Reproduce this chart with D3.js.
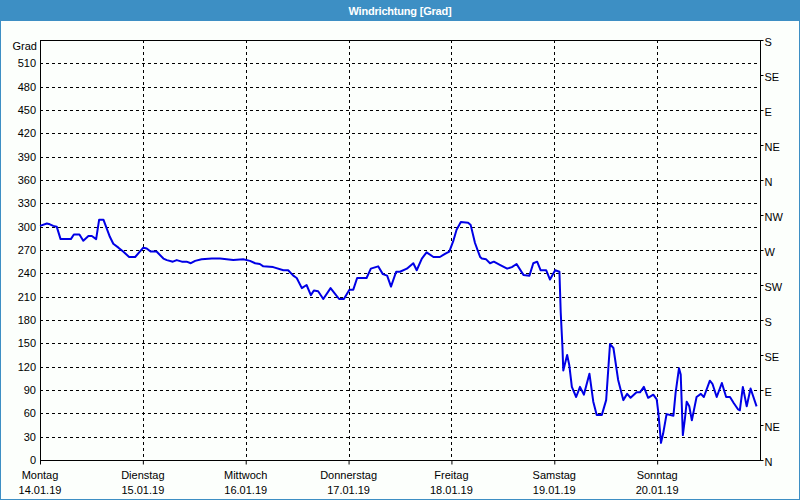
<!DOCTYPE html>
<html><head><meta charset="utf-8">
<script src="https://cdn.jsdelivr.net/npm/d3@7"></script>
<style>
html,body{margin:0;padding:0;background:#fff;}
svg{display:block;font-family:"Liberation Sans",Arial,sans-serif;}
</style></head>
<body>
<svg id="chart" width="800" height="500"></svg>
<script>
const title = "Windrichtung [Grad]";
const yUnit = "Grad";
const dayNames = ["Montag","Dienstag","Mittwoch","Donnerstag","Freitag","Samstag","Sonntag"];
const dayDates = ["14.01.19","15.01.19","16.01.19","17.01.19","18.01.19","19.01.19","20.01.19"];
const yTicks = [0,30,60,90,120,150,180,210,240,270,300,330,360,390,420,450,480,510];
const compassValues = [0,45,90,135,180,225,270,315,360,405,450,495,540];
const compassLabels = ["N","NE","E","SE","S","SW","W","NW","N","NE","E","SE","S"];
// hours since Monday 14.01.19 00:00
const hours = [0,1.6,2.3,3.1,3.9,4.8,7.2,7.9,9.2,10.1,11.3,12.1,13.1,13.8,14.8,16.3,17.1,18.3,19.4,20.8,22.2,
 24.1,24.9,25.8,27.2,28.8,29.6,31.0,31.9,33.1,34.2,35.2,36.2,37.7,40.1,42.0,45.1,47.4,
 49.0,50.2,51.3,52.1,54.4,56.8,57.9,59.1,59.9,61.1,62.2,63.2,63.9,64.9,66.1,67.8,68.8,69.8,70.9,
 72.2,73.1,74.0,76.2,77.2,78.9,80.0,81.0,81.9,83.1,84.0,85.6,87.1,87.9,89.1,90.2,91.8,93.3,94.5,95.5,
 96.4,97.2,98.2,99.9,100.5,101.5,102.7,103.1,104.1,105.0,105.9,107.3,109.0,110.1,111.2,112.8,114.2,115.1,116.0,116.8,118.1,119.0,
 120.2,121.2,121.5,121.9,122.1,123.0,123.5,124.1,125.1,126.0,126.9,128.2,129.1,129.9,131.1,132.1,133.0,133.8,134.9,136.1,137.0,137.8,139.2,140.0,140.9,141.9,143.1,143.9,
 144.3,144.9,145.4,146.2,147.8,148.3,149.1,149.5,150.0,150.5,150.9,151.5,152.1,153.2,154.2,154.9,156.3,156.9,157.9,159.1,160.1,161.0,161.9,162.9,163.3,164.0,164.9,165.8,167.2];
const values = [301,304,303,301,300,284,284,290,290,282,288,288,284,309,309,287,278,273,268,261,261,
 273,272,268,268,259,257,255,257,255,255,253,256,258,259,259,257,258,
 256,253,252,249,248,244,244,237,234,221,225,212,218,217,207,221,214,207,207,
 219,219,234,234,246,249,239,237,223,242,242,246,253,244,259,267,261,261,265,268,
 281,296,306,305,302,279,261,259,258,253,255,251,246,248,252,238,237,253,255,244,244,232,
 244,242,190,146,115,135,122,94,81,94,84,111,75,58,58,77,149,144,103,77,85,80,87,87,94,80,84,78,
 60,22,34,59,57,86,118,110,32,54,75,69,51,81,85,81,102,98,81,99,81,81,73,65,64,94,69,92,69];

const W = 800, H = 500;
const m = {left:40, right:760, top:40, bottom:460};
const svg = d3.select("#chart");
const start = new Date(2019,0,14);
const end = new Date(2019,0,21);
const x = d3.scaleTime().domain([start,end]).range([m.left,m.right]);
const y = d3.scaleLinear().domain([0,540]).range([m.bottom,m.top]);

// background and frame
svg.append("rect").attr("x",0).attr("y",0).attr("width",W).attr("height",H).attr("fill","#fcfffc");
svg.append("rect").attr("x",0).attr("y",0).attr("width",W).attr("height",21).attr("fill","#3d8fc4");
svg.append("rect").attr("x",0.5).attr("y",0.5).attr("width",W-1).attr("height",H-1).attr("fill","none").attr("stroke","#3d8fc4");
svg.append("text").attr("x",W/2).attr("y",15).attr("text-anchor","middle").attr("fill","#fff")
  .attr("font-weight","bold").attr("font-size","11px").attr("letter-spacing","-0.2px").text(title);

// horizontal grid
svg.append("g").selectAll("line").data(yTicks.filter(d=>d>0)).join("line")
  .attr("x1",m.left).attr("x2",m.right).attr("y1",d=>Math.round(y(d))+0.5).attr("y2",d=>Math.round(y(d))+0.5)
  .attr("stroke","#000").attr("stroke-dasharray","3,3");
// vertical grid
const days = d3.range(7).map(i=>d3.timeDay.offset(start,i));
svg.append("g").selectAll("line").data(days.slice(1)).join("line")
  .attr("x1",d=>Math.round(x(d))+0.5).attr("x2",d=>Math.round(x(d))+0.5).attr("y1",m.top).attr("y2",m.bottom)
  .attr("stroke","#000").attr("stroke-dasharray","3,3");

// frame of plot
svg.append("rect").attr("x",m.left+0.5).attr("y",m.top+0.5).attr("width",m.right-m.left).attr("height",m.bottom-m.top)
  .attr("fill","none").attr("stroke","#000");

// left axis
const yAxis = d3.axisLeft(y).tickValues(yTicks).tickSize(0).tickPadding(4);
const gy = svg.append("g").attr("transform",`translate(${m.left},0)`).call(yAxis);
gy.select(".domain").remove();
gy.selectAll("text").attr("font-size","11px").attr("font-family","Liberation Sans, Arial, sans-serif").attr("fill","#000");
svg.append("text").attr("x",37).attr("y",50).attr("text-anchor","end").attr("font-size","11px").attr("fill","#000").text(yUnit);

// right compass axis
const yR = d3.axisRight(y).tickValues(compassValues).tickSize(3).tickPadding(1)
  .tickFormat((d,i)=>compassLabels[i]);
const gr = svg.append("g").attr("transform",`translate(${m.right+0.5},0)`).call(yR);
gr.select(".domain").remove();
gr.selectAll("text").attr("font-size","11px").attr("dy","0.5em").attr("font-family","Liberation Sans, Arial, sans-serif").attr("fill","#000");

// bottom axis
const xAxis = d3.axisBottom(x).tickValues(days).tickSize(4).tickFormat(()=>"");
const gx = svg.append("g").attr("transform",`translate(0,${m.bottom+0.5})`).call(xAxis);
gx.select(".domain").remove();
gx.selectAll(".tick text").remove();
const lab = svg.append("g").selectAll("g").data(days).join("g");
lab.append("text").attr("x",d=>x(d)).attr("y",479).attr("text-anchor","middle").attr("font-size","11px").attr("fill","#000")
  .text((d,i)=>dayNames[i]);
lab.append("text").attr("x",d=>x(d)).attr("y",494).attr("text-anchor","middle").attr("font-size","11px").attr("fill","#000")
  .text((d,i)=>dayDates[i]);

// data line
const data = hours.map((h,i)=>({t:new Date(start.getTime()+h*3600e3), v:values[i]}));
svg.append("path").datum(data)
  .attr("d", d3.line().x(d=>x(d.t)).y(d=>y(d.v)))
  .attr("fill","none").attr("stroke","#0000e6").attr("stroke-width",2).attr("stroke-linejoin","round");
</script>
</body></html>
